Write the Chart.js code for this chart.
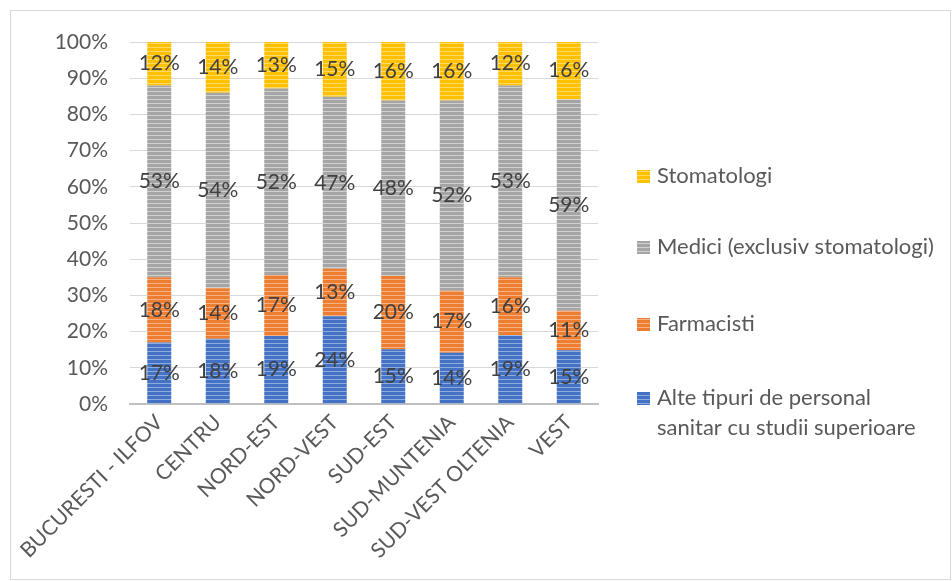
<!DOCTYPE html>
<html lang="ro">
<head>
  <meta charset="UTF-8">
  <title>Personal sanitar pe regiuni</title>
  <script src="https://cdn.jsdelivr.net/npm/chart.js"></script>
  <style>
    body { margin: 0; background: #fff; }
  </style>
</head>
<body>
  <canvas id="chart" width="952" height="581"></canvas>
  <script>
    // regions and shares (%) as shown in the data labels
    const regions = ['BUCURESTI - ILFOV', 'CENTRU', 'NORD-EST', 'NORD-VEST', 'SUD-EST', 'SUD-MUNTENIA', 'SUD-VEST OLTENIA', 'VEST'];
    const alte = [17, 18, 19, 24, 15, 14, 19, 15];
    const farmacisti = [18, 14, 17, 13, 20, 17, 16, 11];
    const medici = [53, 54, 52, 47, 48, 52, 53, 59];
    const stomatologi = [12, 14, 13, 15, 16, 16, 12, 16];
    const yTicks = [0, 10, 20, 30, 40, 50, 60, 70, 80, 90, 100];

    const seriesNames = ['Alte tipuri de personal\nsanitar cu studii superioare', 'Farmacisti', 'Medici (exclusiv stomatologi)', 'Stomatologi'];
    const series = [alte, farmacisti, medici, stomatologi];
    const colors = [['#4472C4', '#8FAADC'], ['#ED7D31', '#F4B183'], ['#A5A5A5', '#D0D0D0'], ['#FFC000', '#FFD966']];

    function stripes(c) {
      const p = document.createElement('canvas');
      p.width = 4; p.height = 4;
      const g = p.getContext('2d');
      g.fillStyle = c[0];
      g.fillRect(0, 0, 4, 4);
      g.fillStyle = c[1];
      g.fillRect(0, 3, 4, 1);
      return g.createPattern(p, 'repeat');
    }

    // 100% stacked: normalise each column like the spreadsheet does
    const totals = regions.map((r, i) => series.reduce((s, a) => s + a[i], 0));

    const datasets = series.map((vals, k) => ({
      label: seriesNames[k],
      data: vals.map((v, i) => v / totals[i] * 100),
      raw: vals,
      backgroundColor: stripes(colors[k]),
      swatch: stripes(colors[k]),
      barPercentage: 0.41,
      categoryPercentage: 1
    }));

    const font = 'Lato, "Open Sans", sans-serif';

    const frame = {
      id: 'frame',
      beforeDraw(chart) {
        const c = chart.ctx;
        c.save();
        c.strokeStyle = '#d9d9d9';
        c.lineWidth = 1;
        c.strokeRect(10.5, 10.5, 940, 569);
        c.restore();
      }
    };

    const valueLabels = {
      id: 'valueLabels',
      afterDatasetsDraw(chart) {
        const c = chart.ctx;
        c.save();
        c.font = '21px ' + font;
        c.fillStyle = '#404040';
        c.textAlign = 'center';
        c.textBaseline = 'middle';
        chart.data.datasets.forEach((ds, k) => {
          chart.getDatasetMeta(k).data.forEach((bar, i) => {
            c.fillText(ds.raw[i] + '%', bar.x, (bar.y + bar.base) / 2);
          });
        });
        c.restore();
      }
    };

    const sideLegend = {
      id: 'sideLegend',
      afterDraw(chart) {
        const c = chart.ctx;
        const ys = [176, 247, 324, 398];
        c.save();
        c.font = '22px ' + font;
        c.textBaseline = 'middle';
        for (let k = 3; k >= 0; k--) {
          const ds = chart.data.datasets[k];
          const y = ys[3 - k];
          c.fillStyle = ds.swatch;
          c.fillRect(637, y - 6, 13, 13);
          c.fillStyle = '#595959';
          ds.label.split('\n').forEach((line, j) => c.fillText(line, 657, y + j * 30));
        }
        c.restore();
      }
    };

    new Chart(document.getElementById('chart').getContext('2d'), {
      type: 'bar',
      data: { labels: regions, datasets },
      plugins: [frame, valueLabels, sideLegend],
      options: {
        responsive: false,
        animation: false,
        layout: { padding: { left: 10, top: 42, right: 354, bottom: 0 } },
        plugins: { legend: { display: false }, tooltip: { enabled: false } },
        scales: {
          x: {
            stacked: true,
            grid: { display: false, drawTicks: false },
            border: { color: '#bfbfbf', width: 2 },
            ticks: {
              color: '#595959',
              font: { size: 21, family: font },
              minRotation: 45,
              maxRotation: 45,
              autoSkip: false,
              padding: 6
            },
            afterFit(s) { s.height = 177; }
          },
          y: {
            stacked: true,
            min: 0,
            max: 100,
            afterBuildTicks(s) { s.ticks = yTicks.map(v => ({ value: v })); },
            grid: { color: '#d9d9d9', drawTicks: false },
            border: { display: false },
            ticks: {
              color: '#595959',
              font: { size: 21, family: font },
              padding: 22,
              callback: v => v + '%'
            },
            afterFit(s) { s.width = 120; }
          }
        }
      }
    });
  </script>
</body>
</html>
